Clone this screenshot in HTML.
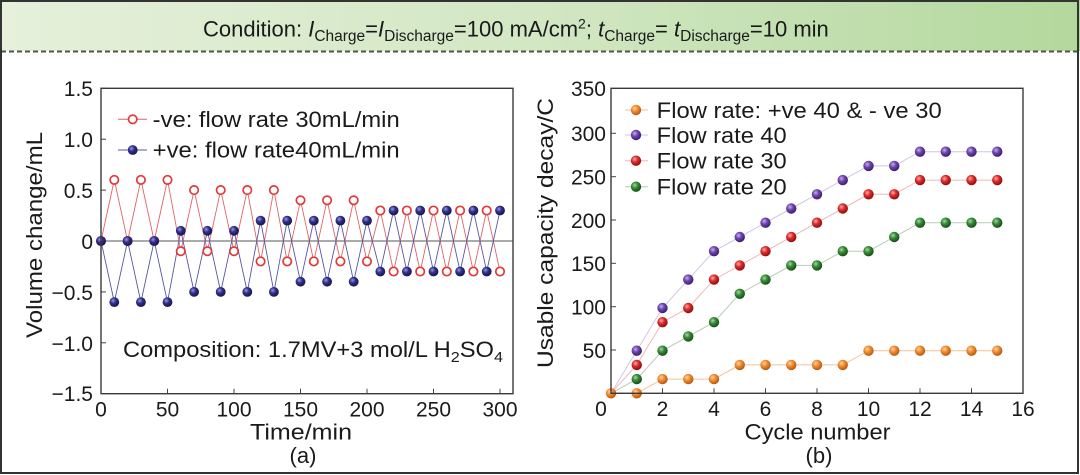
<!DOCTYPE html>
<html><head><meta charset="utf-8"><style>
html,body{margin:0;padding:0;background:#fff;}
svg{display:block;}
text{font-family:"Liberation Sans",Arial,sans-serif;fill:#1a1a1a;}
</style></head><body>
<svg width="1080" height="475" viewBox="0 0 1080 475" xmlns="http://www.w3.org/2000/svg">
<defs>
<linearGradient id="hdr" x1="0" y1="0" x2="1" y2="0">
<stop offset="0" stop-color="#e6f0db"/><stop offset="0.5" stop-color="#d2e7c3"/><stop offset="1" stop-color="#b3d89d"/>
</linearGradient>
<radialGradient id="gO" cx="0.38" cy="0.35" r="0.65"><stop offset="0" stop-color="#ffd6a8"/><stop offset="0.45" stop-color="#f08c30"/><stop offset="1" stop-color="#b45a12"/></radialGradient>
<radialGradient id="gP" cx="0.38" cy="0.35" r="0.65"><stop offset="0" stop-color="#c6b0ec"/><stop offset="0.45" stop-color="#6d46ae"/><stop offset="1" stop-color="#3c1e6c"/></radialGradient>
<radialGradient id="gR" cx="0.38" cy="0.35" r="0.65"><stop offset="0" stop-color="#ffb0b0"/><stop offset="0.45" stop-color="#e02a2a"/><stop offset="1" stop-color="#8c1010"/></radialGradient>
<radialGradient id="gG" cx="0.38" cy="0.35" r="0.65"><stop offset="0" stop-color="#a8d8a8"/><stop offset="0.45" stop-color="#358a35"/><stop offset="1" stop-color="#184e18"/></radialGradient>
<radialGradient id="gB" cx="0.38" cy="0.35" r="0.65"><stop offset="0" stop-color="#9a9ad8"/><stop offset="0.45" stop-color="#30308e"/><stop offset="1" stop-color="#16164c"/></radialGradient>
</defs>

<!-- header -->
<rect x="0" y="0" width="1080" height="51" fill="url(#hdr)"/>
<line x1="1" y1="51.5" x2="1079" y2="51.5" stroke="#4a5a42" stroke-width="2" stroke-dasharray="5 3"/>
<text x="203" y="36.5" font-size="22">Condition: <tspan font-style="italic">I</tspan><tspan font-size="15.5" dy="4.5">Charge</tspan><tspan dy="-4.5">=</tspan><tspan font-style="italic">I</tspan><tspan font-size="15.5" dy="4.5">Discharge</tspan><tspan dy="-4.5">=100 mA/cm</tspan><tspan font-size="14" dy="-8">2</tspan><tspan dy="8">; </tspan><tspan font-style="italic">t</tspan><tspan font-size="15.5" dy="4.5">Charge</tspan><tspan dy="-4.5">= </tspan><tspan font-style="italic">t</tspan><tspan font-size="15.5" dy="4.5">Discharge</tspan><tspan dy="-4.5">=10 min</tspan></text>

<!-- outer frame -->
<rect x="1" y="1" width="1077" height="472" fill="none" stroke="#333" stroke-width="2"/>

<!-- ===== LEFT PANEL ===== -->
<line x1="101" y1="241" x2="513" y2="241" stroke="#555" stroke-width="1"/>
<g stroke="#444" stroke-width="1">
<line x1="101" y1="393.7" x2="101" y2="388.7"/><line x1="167.5" y1="393.7" x2="167.5" y2="388.7"/><line x1="234" y1="393.7" x2="234" y2="388.7"/><line x1="300.5" y1="393.7" x2="300.5" y2="388.7"/><line x1="367" y1="393.7" x2="367" y2="388.7"/><line x1="433.5" y1="393.7" x2="433.5" y2="388.7"/><line x1="500" y1="393.7" x2="500" y2="388.7"/>
<line x1="101" y1="88.3" x2="106" y2="88.3"/><line x1="101" y1="139.2" x2="106" y2="139.2"/><line x1="101" y1="190.1" x2="106" y2="190.1"/><line x1="101" y1="291.9" x2="106" y2="291.9"/><line x1="101" y1="342.8" x2="106" y2="342.8"/>
</g>
<polyline fill="none" stroke="#e06464" stroke-width="0.9" points="101,241 114.3,179.9 127.6,241 140.9,179.9 154.2,241 167.5,179.9 180.8,251.2 194.1,190.1 207.4,251.2 220.7,190.1 234,251.2 247.3,190.1 260.6,261.4 273.9,190.1 287.2,261.4 300.5,200.3 313.8,261.4 327.1,200.3 340.4,261.4 353.7,200.3 367,261.4 380.3,210.5 393.6,271.5 406.9,210.5 420.2,271.5 433.5,210.5 446.8,271.5 460.1,210.5 473.4,271.5 486.7,210.5 500,271.5"/>
<polyline fill="none" stroke="#5656a6" stroke-width="0.9" points="101,241 114.3,302.1 127.6,241 140.9,302.1 154.2,241 167.5,302.1 180.8,230.8 194.1,291.9 207.4,230.8 220.7,291.9 234,230.8 247.3,291.9 260.6,220.6 273.9,291.9 287.2,220.6 300.5,281.7 313.8,220.6 327.1,281.7 340.4,220.6 353.7,281.7 367,220.6 380.3,271.5 393.6,210.5 406.9,271.5 420.2,210.5 433.5,271.5 446.8,210.5 460.1,271.5 473.4,210.5 486.7,271.5 500,210.5"/>
<g fill="#fff" stroke="#e23a3a" stroke-width="1.7">
<circle cx="101" cy="241" r="4.2"/><circle cx="114.3" cy="179.9" r="4.2"/><circle cx="127.6" cy="241" r="4.2"/><circle cx="140.9" cy="179.9" r="4.2"/><circle cx="154.2" cy="241" r="4.2"/><circle cx="167.5" cy="179.9" r="4.2"/><circle cx="180.8" cy="251.2" r="4.2"/><circle cx="194.1" cy="190.1" r="4.2"/><circle cx="207.4" cy="251.2" r="4.2"/><circle cx="220.7" cy="190.1" r="4.2"/><circle cx="234" cy="251.2" r="4.2"/><circle cx="247.3" cy="190.1" r="4.2"/><circle cx="260.6" cy="261.4" r="4.2"/><circle cx="273.9" cy="190.1" r="4.2"/><circle cx="287.2" cy="261.4" r="4.2"/><circle cx="300.5" cy="200.3" r="4.2"/><circle cx="313.8" cy="261.4" r="4.2"/><circle cx="327.1" cy="200.3" r="4.2"/><circle cx="340.4" cy="261.4" r="4.2"/><circle cx="353.7" cy="200.3" r="4.2"/><circle cx="367" cy="261.4" r="4.2"/><circle cx="380.3" cy="210.5" r="4.2"/><circle cx="393.6" cy="271.5" r="4.2"/><circle cx="406.9" cy="210.5" r="4.2"/><circle cx="420.2" cy="271.5" r="4.2"/><circle cx="433.5" cy="210.5" r="4.2"/><circle cx="446.8" cy="271.5" r="4.2"/><circle cx="460.1" cy="210.5" r="4.2"/><circle cx="473.4" cy="271.5" r="4.2"/><circle cx="486.7" cy="210.5" r="4.2"/><circle cx="500" cy="271.5" r="4.2"/>
</g>
<g fill="url(#gB)">
<circle cx="101" cy="241" r="4.9"/><circle cx="114.3" cy="302.1" r="4.9"/><circle cx="127.6" cy="241" r="4.9"/><circle cx="140.9" cy="302.1" r="4.9"/><circle cx="154.2" cy="241" r="4.9"/><circle cx="167.5" cy="302.1" r="4.9"/><circle cx="180.8" cy="230.8" r="4.9"/><circle cx="194.1" cy="291.9" r="4.9"/><circle cx="207.4" cy="230.8" r="4.9"/><circle cx="220.7" cy="291.9" r="4.9"/><circle cx="234" cy="230.8" r="4.9"/><circle cx="247.3" cy="291.9" r="4.9"/><circle cx="260.6" cy="220.6" r="4.9"/><circle cx="273.9" cy="291.9" r="4.9"/><circle cx="287.2" cy="220.6" r="4.9"/><circle cx="300.5" cy="281.7" r="4.9"/><circle cx="313.8" cy="220.6" r="4.9"/><circle cx="327.1" cy="281.7" r="4.9"/><circle cx="340.4" cy="220.6" r="4.9"/><circle cx="353.7" cy="281.7" r="4.9"/><circle cx="367" cy="220.6" r="4.9"/><circle cx="380.3" cy="271.5" r="4.9"/><circle cx="393.6" cy="210.5" r="4.9"/><circle cx="406.9" cy="271.5" r="4.9"/><circle cx="420.2" cy="210.5" r="4.9"/><circle cx="433.5" cy="271.5" r="4.9"/><circle cx="446.8" cy="210.5" r="4.9"/><circle cx="460.1" cy="271.5" r="4.9"/><circle cx="473.4" cy="210.5" r="4.9"/><circle cx="486.7" cy="271.5" r="4.9"/><circle cx="500" cy="210.5" r="4.9"/>
</g>
<rect x="101" y="88.3" width="412" height="305.4" fill="none" stroke="#3a3a3a" stroke-width="1.4"/>
<!-- left legend -->
<line x1="118" y1="119.3" x2="147" y2="119.3" stroke="#e06464" stroke-width="1"/>
<circle cx="132.7" cy="119.3" r="4.2" fill="#fff" stroke="#e23a3a" stroke-width="1.7"/>
<text x="152.7" y="127" font-size="22" textLength="247" lengthAdjust="spacingAndGlyphs">-ve: flow rate 30mL/min</text>
<line x1="118" y1="150" x2="147" y2="150" stroke="#5656a6" stroke-width="1"/>
<circle cx="132.7" cy="150" r="4.9" fill="url(#gB)"/>
<text x="152.7" y="157.7" font-size="22" textLength="247" lengthAdjust="spacingAndGlyphs">+ve: flow rate40mL/min</text>
<text x="123" y="357" font-size="22" textLength="380" lengthAdjust="spacingAndGlyphs">Composition: 1.7MV+3 mol/L H<tspan font-size="15" dy="5">2</tspan><tspan dy="-5">SO</tspan><tspan font-size="15" dy="5">4</tspan></text>
<!-- left tick labels -->
<g font-size="21" text-anchor="end">
<text x="93" y="96">1.5</text><text x="93" y="147">1.0</text><text x="93" y="198">0.5</text><text x="93" y="249">0</text><text x="93" y="300">−0.5</text><text x="93" y="351">−1.0</text><text x="93" y="401">−1.5</text>
</g>
<g font-size="21" text-anchor="middle">
<text x="101" y="416.5">0</text><text x="167.5" y="416.5">50</text><text x="234" y="416.5">100</text><text x="300.5" y="416.5">150</text><text x="367" y="416.5">200</text><text x="433.5" y="416.5">250</text><text x="500" y="416.5">300</text>
</g>
<text x="250" y="439.5" font-size="22" textLength="102" lengthAdjust="spacingAndGlyphs">Time/min</text>
<text x="303" y="463" font-size="22" text-anchor="middle">(a)</text>
<text transform="translate(42,235) rotate(-90)" x="-103" y="0" font-size="22" textLength="206" lengthAdjust="spacingAndGlyphs">Volume change/mL</text>

<!-- ===== RIGHT PANEL ===== -->
<g stroke="#444" stroke-width="1">
<line x1="662.5" y1="393.3" x2="662.5" y2="388.3"/><line x1="714" y1="393.3" x2="714" y2="388.3"/><line x1="765.5" y1="393.3" x2="765.5" y2="388.3"/><line x1="817" y1="393.3" x2="817" y2="388.3"/><line x1="868.5" y1="393.3" x2="868.5" y2="388.3"/><line x1="920" y1="393.3" x2="920" y2="388.3"/><line x1="971.5" y1="393.3" x2="971.5" y2="388.3"/>
<line x1="611" y1="350" x2="616" y2="350"/><line x1="611" y1="306.7" x2="616" y2="306.7"/><line x1="611" y1="263.3" x2="616" y2="263.3"/><line x1="611" y1="220" x2="616" y2="220"/><line x1="611" y1="176.7" x2="616" y2="176.7"/><line x1="611" y1="133.3" x2="616" y2="133.3"/>
</g>
<polyline fill="none" stroke="#b8ccb8" stroke-width="1" points="611,393.3 636.75,379.1 662.5,350.7 688.25,336.4 714,322.2 739.75,293.8 765.5,279.6 791.25,265.4 817,265.4 842.75,251.2 868.5,251.2 894.25,237 920,222.7 945.75,222.7 971.5,222.7 997.25,222.7"/>
<polyline fill="none" stroke="#efb8bc" stroke-width="1" points="611,393.3 636.75,364.9 662.5,322.2 688.25,308 714,279.6 739.75,265.4 765.5,251.2 791.25,237 817,222.7 842.75,208.5 868.5,194.3 894.25,194.3 920,180.1 945.75,180.1 971.5,180.1 997.25,180.1"/>
<polyline fill="none" stroke="#d4c4e6" stroke-width="1" points="611,393.3 636.75,350.7 662.5,308 688.25,279.6 714,251.2 739.75,237 765.5,222.7 791.25,208.5 817,194.3 842.75,180.1 868.5,165.9 894.25,165.9 920,151.7 945.75,151.7 971.5,151.7 997.25,151.7"/>
<polyline fill="none" stroke="#f2c29a" stroke-width="1" points="611,393.3 636.75,393.3 662.5,379.1 688.25,379.1 714,379.1 739.75,364.9 765.5,364.9 791.25,364.9 817,364.9 842.75,364.9 868.5,350.7 894.25,350.7 920,350.7 945.75,350.7 971.5,350.7 997.25,350.7"/>
<g fill="url(#gG)">
<circle cx="636.75" cy="379.1" r="5.2"/><circle cx="662.5" cy="350.7" r="5.2"/><circle cx="688.25" cy="336.4" r="5.2"/><circle cx="714" cy="322.2" r="5.2"/><circle cx="739.75" cy="293.8" r="5.2"/><circle cx="765.5" cy="279.6" r="5.2"/><circle cx="791.25" cy="265.4" r="5.2"/><circle cx="817" cy="265.4" r="5.2"/><circle cx="842.75" cy="251.2" r="5.2"/><circle cx="868.5" cy="251.2" r="5.2"/><circle cx="894.25" cy="237" r="5.2"/><circle cx="920" cy="222.7" r="5.2"/><circle cx="945.75" cy="222.7" r="5.2"/><circle cx="971.5" cy="222.7" r="5.2"/><circle cx="997.25" cy="222.7" r="5.2"/>
</g>
<g fill="url(#gR)">
<circle cx="636.75" cy="364.9" r="5.2"/><circle cx="662.5" cy="322.2" r="5.2"/><circle cx="688.25" cy="308" r="5.2"/><circle cx="714" cy="279.6" r="5.2"/><circle cx="739.75" cy="265.4" r="5.2"/><circle cx="765.5" cy="251.2" r="5.2"/><circle cx="791.25" cy="237" r="5.2"/><circle cx="817" cy="222.7" r="5.2"/><circle cx="842.75" cy="208.5" r="5.2"/><circle cx="868.5" cy="194.3" r="5.2"/><circle cx="894.25" cy="194.3" r="5.2"/><circle cx="920" cy="180.1" r="5.2"/><circle cx="945.75" cy="180.1" r="5.2"/><circle cx="971.5" cy="180.1" r="5.2"/><circle cx="997.25" cy="180.1" r="5.2"/>
</g>
<g fill="url(#gP)">
<circle cx="636.75" cy="350.7" r="5.2"/><circle cx="662.5" cy="308" r="5.2"/><circle cx="688.25" cy="279.6" r="5.2"/><circle cx="714" cy="251.2" r="5.2"/><circle cx="739.75" cy="237" r="5.2"/><circle cx="765.5" cy="222.7" r="5.2"/><circle cx="791.25" cy="208.5" r="5.2"/><circle cx="817" cy="194.3" r="5.2"/><circle cx="842.75" cy="180.1" r="5.2"/><circle cx="868.5" cy="165.9" r="5.2"/><circle cx="894.25" cy="165.9" r="5.2"/><circle cx="920" cy="151.7" r="5.2"/><circle cx="945.75" cy="151.7" r="5.2"/><circle cx="971.5" cy="151.7" r="5.2"/><circle cx="997.25" cy="151.7" r="5.2"/>
</g>
<g fill="url(#gO)">
<circle cx="611" cy="393.3" r="5.2"/><circle cx="636.75" cy="393.3" r="5.2"/><circle cx="662.5" cy="379.1" r="5.2"/><circle cx="688.25" cy="379.1" r="5.2"/><circle cx="714" cy="379.1" r="5.2"/><circle cx="739.75" cy="364.9" r="5.2"/><circle cx="765.5" cy="364.9" r="5.2"/><circle cx="791.25" cy="364.9" r="5.2"/><circle cx="817" cy="364.9" r="5.2"/><circle cx="842.75" cy="364.9" r="5.2"/><circle cx="868.5" cy="350.7" r="5.2"/><circle cx="894.25" cy="350.7" r="5.2"/><circle cx="920" cy="350.7" r="5.2"/><circle cx="945.75" cy="350.7" r="5.2"/><circle cx="971.5" cy="350.7" r="5.2"/><circle cx="997.25" cy="350.7" r="5.2"/>
</g>
<rect x="611" y="88.3" width="412" height="305" fill="none" stroke="#3a3a3a" stroke-width="1.4"/>
<!-- right legend -->
<line x1="625" y1="110" x2="648" y2="110" stroke="#f2c29a" stroke-width="1"/>
<circle cx="636" cy="110" r="5.2" fill="url(#gO)"/>
<text x="656.7" y="118" font-size="22" textLength="285" lengthAdjust="spacingAndGlyphs">Flow rate: +ve 40 &amp; - ve 30</text>
<line x1="625" y1="135" x2="648" y2="135" stroke="#d4c4e6" stroke-width="1"/>
<circle cx="636" cy="135" r="5.2" fill="url(#gP)"/>
<text x="656.7" y="143" font-size="22" textLength="130" lengthAdjust="spacingAndGlyphs">Flow rate 40</text>
<line x1="625" y1="160.7" x2="648" y2="160.7" stroke="#efb8bc" stroke-width="1"/>
<circle cx="636" cy="160.7" r="5.2" fill="url(#gR)"/>
<text x="656.7" y="168.7" font-size="22" textLength="130" lengthAdjust="spacingAndGlyphs">Flow rate 30</text>
<line x1="625" y1="186.7" x2="648" y2="186.7" stroke="#b8ccb8" stroke-width="1"/>
<circle cx="636" cy="186.7" r="5.2" fill="url(#gG)"/>
<text x="656.7" y="194.7" font-size="22" textLength="130" lengthAdjust="spacingAndGlyphs">Flow rate 20</text>
<!-- right tick labels -->
<g font-size="21" text-anchor="end">
<text x="606" y="96">350</text><text x="606" y="141">300</text><text x="606" y="184.5">250</text><text x="606" y="228">200</text><text x="606" y="271">150</text><text x="606" y="314.5">100</text><text x="606" y="358">50</text>
</g>
<g font-size="21" text-anchor="middle">
<text x="601" y="416">0</text><text x="662.5" y="416">2</text><text x="714" y="416">4</text><text x="765.5" y="416">6</text><text x="817" y="416">8</text><text x="868.5" y="416">10</text><text x="920" y="416">12</text><text x="971.5" y="416">14</text><text x="1023" y="416">16</text>
</g>
<text x="744.5" y="439.5" font-size="22" textLength="146" lengthAdjust="spacingAndGlyphs">Cycle number</text>
<text x="819" y="463" font-size="22" text-anchor="middle">(b)</text>
<text transform="translate(553,233) rotate(-90)" x="-135" y="0" font-size="22" textLength="270" lengthAdjust="spacingAndGlyphs">Usable capacity decay/C</text>
</svg>
</body></html>
